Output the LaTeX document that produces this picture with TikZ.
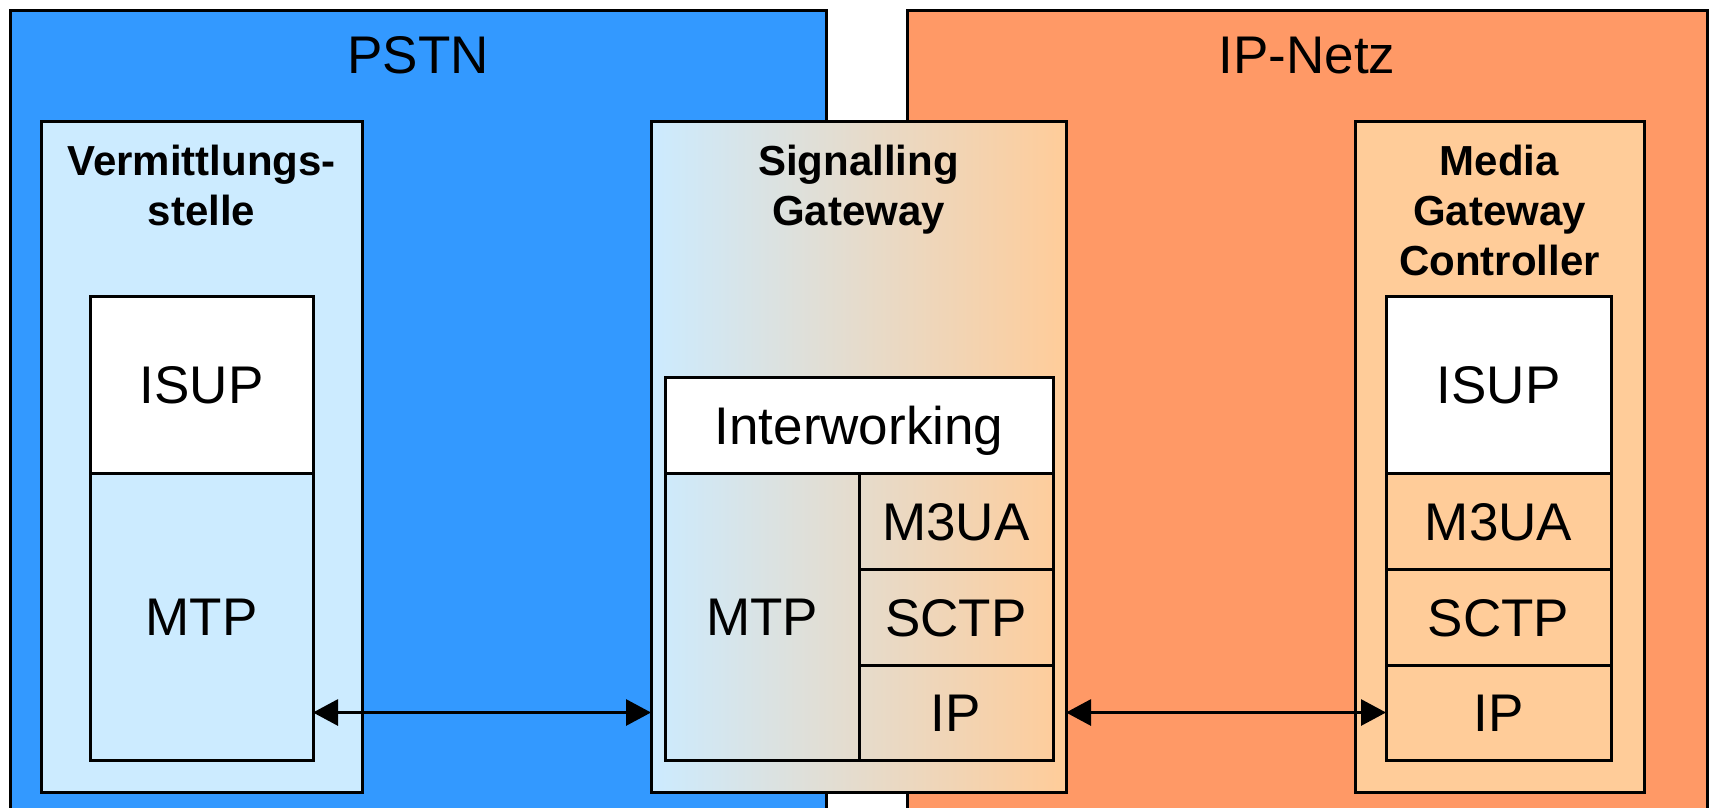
\documentclass[tikz,border=0pt]{standalone}
\usepackage{fontspec}
\setmainfont{Liberation Sans}
\usetikzlibrary{arrows.meta,positioning}
\definecolor{pstnblau}{HTML}{3399FF}
\definecolor{hellblau}{HTML}{CCEBFF}
\definecolor{iporange}{HTML}{FF9966}
\definecolor{hellorange}{HTML}{FFCC99}
\definecolor{mittelgrau}{HTML}{E0E0DE}
\tikzset{
  kasten/.style={draw, line width=3pt, anchor=north west, inner sep=0pt, outer sep=0pt},
  schicht/.style={kasten, font=\fontsize{53}{60}\selectfont, text height=38pt, text depth=0pt},
  netzlabel/.style={anchor=north, inner sep=0pt, font=\fontsize{53}{60}\selectfont, text height=38pt, text depth=0pt},
  titel/.style={anchor=north, inner sep=0pt, align=center, font=\fontsize{42}{50}\selectfont\bfseries},
  pfeil/.style={{Triangle[length=25pt,width=26pt]}-{Triangle[length=25pt,width=26pt]}, line width=3pt},
}
\begin{document}
\begin{tikzpicture}[x=1pt,y=-1pt]
\clip (0,0) rectangle (1709,807);
\fill[white] (0,0) rectangle (1709,807);
% Netze
\node[kasten, fill=pstnblau, minimum width=816pt, minimum height=840pt] (pstn) at (10,10) {};
\node[kasten, fill=iporange, minimum width=800pt, minimum height=840pt] (ipnetz) at (907,10) {};
\node[netzlabel, below=25pt of pstn.north] (pstnlabel) {PSTN};
\node[netzlabel, below=25pt of ipnetz.north] (iplabel) {IP-Netz};
% Geraete
\node[kasten, fill=hellblau, minimum width=321pt, minimum height=671pt] (vst) at (41,121) {};
\node[kasten, left color=hellblau, middle color=mittelgrau, right color=hellorange, minimum width=415pt, minimum height=671pt] (sg) at (651,121) {};
\node[kasten, fill=hellorange, minimum width=289pt, minimum height=671pt] (mgc) at (1355,121) {};
\node[titel, below=24pt of vst.north] (vsttitel) {Vermittlungs-\\stelle};
\node[titel, below=24pt of sg.north] (sgtitel) {Signalling\\Gateway};
\node[titel, below=24pt of mgc.north] (mgctitel) {Media\\Gateway\\Controller};
% Protokollstapel
\node[schicht, fill=white, minimum width=223pt, minimum height=177pt] (isupA) at (90,296) {ISUP};
\node[schicht, minimum width=223pt, minimum height=287pt] (mtpA) at (90,473) {MTP};
\node[schicht, fill=white, minimum width=388pt, minimum height=96pt] (iw) at (665,377) {Interworking};
\node[schicht, minimum width=194pt, minimum height=287pt] (mtpB) at (665,473) {MTP};
\node[schicht, fill=white, minimum width=225pt, minimum height=177pt] (isupC) at (1386,296) {ISUP};
\foreach \s/\xa/\w in {B/859/194,C/1386/225} {
  \foreach \n/\t/\y/\h in {m3ua/M3UA/473/96,sctp/SCTP/569/96,ip/IP/665/95} {
    \node[schicht, minimum width=\w pt, minimum height=\h pt] (\n\s) at (\xa,\y) {\t};
  }
}
% Verbindungen
\draw[pfeil] (mtpA.east |- ipB.west) -- (sg.west |- ipB.west);
\draw[pfeil] (sg.east |- ipC.west) -- (ipC.west);
\end{tikzpicture}
\end{document}
